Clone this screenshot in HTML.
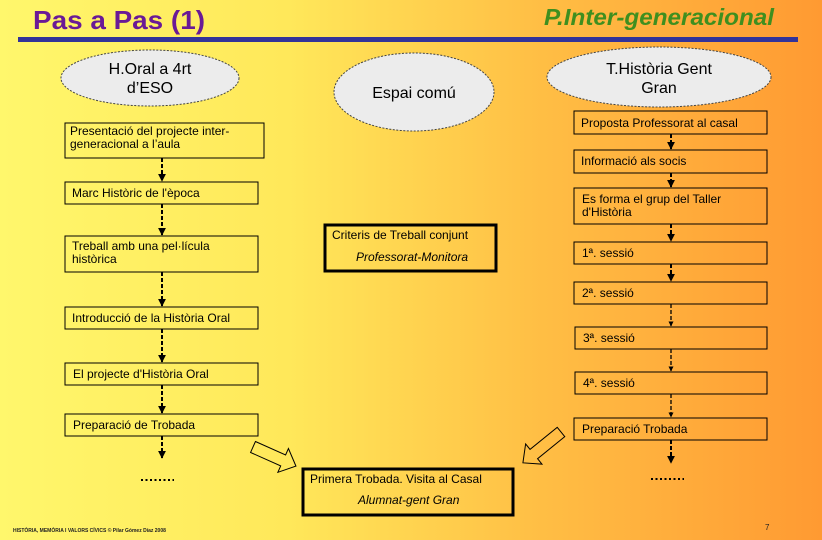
<!DOCTYPE html>
<html><head><meta charset="utf-8"><style>
html,body{margin:0;padding:0;}
body{width:822px;height:540px;overflow:hidden;background:linear-gradient(90deg,#fff76c 0%,#ffe85a 35%,#ffbf45 65%,#ff9a32 100%);font-family:"Liberation Sans",sans-serif;}
svg{position:absolute;left:0;top:0;}
</style></head><body>
<svg width="822" height="540" viewBox="0 0 822 540" xmlns="http://www.w3.org/2000/svg" font-family="Liberation Sans, sans-serif">
<defs>
<marker id="ah" viewBox="0 0 10 10" refX="9" refY="5" markerWidth="4" markerHeight="4" orient="auto"><path d="M0,0 L10,5 L0,10 z" fill="#000"/></marker>
</defs>
<text x="33" y="29" font-size="26" font-weight="bold" fill="#6a1a96" textLength="172" lengthAdjust="spacingAndGlyphs">Pas a Pas (1)</text>
<text x="774" y="25" font-size="23" font-weight="bold" font-style="italic" fill="#3f8f1f" text-anchor="end" textLength="230" lengthAdjust="spacingAndGlyphs">P.Inter-generacional</text>
<rect x="18" y="37" width="780" height="5" fill="#333399"/>

<g fill="#ececec" stroke="#444" stroke-width="1" stroke-dasharray="2,1.5">
<ellipse cx="150" cy="78" rx="89" ry="28"/>
<ellipse cx="414" cy="92" rx="80" ry="39"/>
<ellipse cx="659" cy="77" rx="112" ry="30"/>
</g>
<g font-size="16" text-anchor="middle" fill="#000">
<text x="150" y="74">H.Oral a 4rt</text><text x="150" y="93">d’ESO</text>
<text x="414" y="98">Espai comú</text>
<text x="659" y="74">T.Història Gent</text><text x="659" y="93">Gran</text>
</g>

<g fill="none" stroke="#000" stroke-width="1">
<rect x="65" y="123" width="199" height="35"/>
<rect x="65" y="182" width="193" height="22"/>
<rect x="65" y="236" width="193" height="36"/>
<rect x="65" y="307" width="193" height="22"/>
<rect x="65" y="363" width="193" height="22"/>
<rect x="65" y="414" width="193" height="22"/>
<rect x="574" y="111" width="193" height="23"/>
<rect x="574" y="150" width="193" height="23"/>
<rect x="574" y="188" width="193" height="36"/>
<rect x="574" y="242" width="193" height="22"/>
<rect x="574" y="282" width="193" height="22"/>
<rect x="575" y="327" width="192" height="22"/>
<rect x="575" y="372" width="192" height="22"/>
<rect x="574" y="418" width="193" height="22"/>
</g>
<g fill="none" stroke="#000" stroke-width="3">
<rect x="325" y="225" width="171" height="46"/>
<rect x="303" y="469" width="210" height="46"/>
</g>

<g stroke="#000" stroke-width="2" stroke-dasharray="4,2" marker-end="url(#ah)">
<line x1="162" y1="158" x2="162" y2="181"/>
<line x1="162" y1="204" x2="162" y2="235"/>
<line x1="162" y1="272" x2="162" y2="306"/>
<line x1="162" y1="329" x2="162" y2="362"/>
<line x1="162" y1="385" x2="162" y2="413"/>
<line x1="162" y1="436" x2="162" y2="458"/>
<line x1="671" y1="134" x2="671" y2="149"/>
<line x1="671" y1="173" x2="671" y2="187"/>
<line x1="671" y1="224" x2="671" y2="241"/>
<line x1="671" y1="264" x2="671" y2="281"/>
<line x1="671" y1="304" x2="671" y2="326" stroke-width="1.3"/>
<line x1="671" y1="349" x2="671" y2="371" stroke-width="1.3"/>
<line x1="671" y1="394" x2="671" y2="417" stroke-width="1.3"/>
<line x1="671" y1="440" x2="671" y2="463"/>
</g>
<g stroke="#000" stroke-width="2" stroke-dasharray="2,2.5">
<line x1="141" y1="480" x2="174" y2="480"/>
<line x1="651" y1="479" x2="684" y2="479"/>
</g>

<g fill="none" stroke="#000" stroke-width="1">
<polygon transform="translate(253,447) rotate(24)" points="0,-6 33,-6 33,-13 47,0 33,13 33,6 0,6"/>
<polygon transform="translate(561,432) rotate(141)" points="0,-6 35,-6 35,-13 49,0 35,13 35,6 0,6"/>
</g>

<g font-size="12" fill="#000">
<text x="70" y="135">Presentació del projecte inter-</text>
<text x="70" y="148">generacional a l’aula</text>
<text x="72" y="197">Marc Històric de l'època</text>
<text x="72" y="250">Treball amb una pel·lícula</text>
<text x="72" y="263">històrica</text>
<text x="72" y="322">Introducció de la Història Oral</text>
<text x="73" y="378">El projecte d'Història Oral</text>
<text x="73" y="429">Preparació de Trobada</text>
<text x="581" y="127">Proposta Professorat  al casal</text>
<text x="581" y="165">Informació als socis</text>
<text x="582" y="203">Es forma el grup del Taller</text>
<text x="582" y="216">d'Història</text>
<text x="582" y="257">1ª. sessió</text>
<text x="582" y="297">2ª. sessió</text>
<text x="583" y="342">3ª. sessió</text>
<text x="583" y="387">4ª. sessió</text>
<text x="582" y="433">Preparació Trobada</text>
<text x="332" y="239">Criteris de Treball  conjunt</text>
<text x="356" y="261" font-style="italic">Professorat-Monitora</text>
<text x="310" y="483">Primera Trobada. Visita al Casal</text>
<text x="358" y="504" font-style="italic">Alumnat-gent Gran</text>
</g>
<text x="13" y="532" font-size="5" font-weight="bold" fill="#222">HISTÒRIA, MEMÒRIA I VALORS CÍVICS ©  Pilar Gómez Díaz 2008</text>
<text x="765" y="530" font-size="8" fill="#222">7</text>
</svg>
</body></html>
